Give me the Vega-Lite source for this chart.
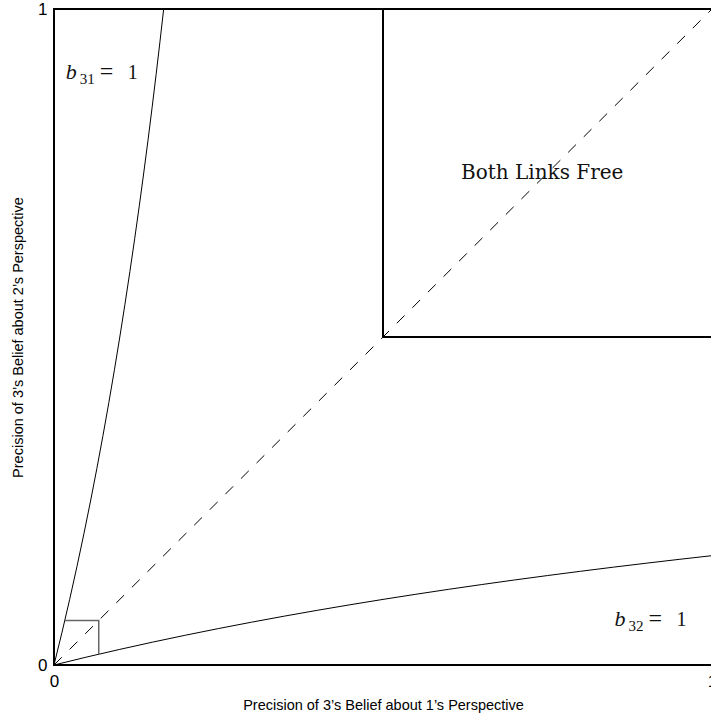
{
  "$schema": "https://vega.github.io/schema/vega-lite/v6.json",
  "autosize": {"type": "none"},
  "padding": {"left": 54, "top": 9, "right": 0, "bottom": 54},
  "width": 658,
  "height": 656,
  "background": "white",
  "config": {
    "view": {"stroke": "black", "strokeWidth": 2},
    "axis": {
      "domain": false,
      "ticks": false,
      "grid": false,
      "labelFont": "Liberation Sans",
      "labelFontSize": 17,
      "labelColor": "black",
      "titleFont": "Liberation Sans",
      "titleFontSize": 14,
      "titleFontWeight": "normal",
      "titleColor": "black",
      "labelFlush": false,
      "labelOverlap": false
    }
  },
  "layer": [
    {
      "data": {"values": [{"x": 0, "y": 0}, {"x": 1, "y": 1}]},
      "mark": {"type": "line", "color": "black", "strokeWidth": 1, "strokeDash": [11, 11], "clip": true},
      "encoding": {
        "x": {"field": "x", "type": "quantitative", "scale": {"domain": [0, 1], "nice": false, "zero": false}, "axis": {"values": [0, 1], "format": "d", "labelFontSize": 17, "labelPadding": 8, "titleFontSize": 14.5, "titlePadding": 9, "title": "Precision of 3’s Belief about 1’s Perspective"}},
        "y": {"field": "y", "type": "quantitative", "scale": {"domain": [0, 1], "nice": false, "zero": false}, "axis": {"values": [0, 1], "format": "d", "labelFontSize": 17, "labelPadding": 7, "titleFontSize": 14.5, "titlePadding": 12, "title": "Precision of 3’s Belief about 2’s Perspective"}}
      }
    },
    {
      "data": {"values": [
        {"x": 0, "y": 0, "i": 0},
        {"x": 0.01220, "y": 0.05, "i": 1},
        {"x": 0.02381, "y": 0.1, "i": 2},
        {"x": 0.03488, "y": 0.15, "i": 3},
        {"x": 0.04545, "y": 0.2, "i": 4},
        {"x": 0.05556, "y": 0.25, "i": 5},
        {"x": 0.06522, "y": 0.3, "i": 6},
        {"x": 0.07447, "y": 0.35, "i": 7},
        {"x": 0.08333, "y": 0.4, "i": 8},
        {"x": 0.09184, "y": 0.45, "i": 9},
        {"x": 0.1, "y": 0.5, "i": 10},
        {"x": 0.10784, "y": 0.55, "i": 11},
        {"x": 0.11538, "y": 0.6, "i": 12},
        {"x": 0.12264, "y": 0.65, "i": 13},
        {"x": 0.12963, "y": 0.7, "i": 14},
        {"x": 0.13636, "y": 0.75, "i": 15},
        {"x": 0.14286, "y": 0.8, "i": 16},
        {"x": 0.14912, "y": 0.85, "i": 17},
        {"x": 0.15517, "y": 0.9, "i": 18},
        {"x": 0.16102, "y": 0.95, "i": 19},
        {"x": 0.16667, "y": 1.0, "i": 20}
      ]},
      "mark": {"type": "line", "color": "black", "strokeWidth": 1},
      "encoding": {
        "x": {"field": "x", "type": "quantitative"},
        "y": {"field": "y", "type": "quantitative"},
        "order": {"field": "i", "type": "quantitative"}
      }
    },
    {
      "data": {"values": [
        {"x": 0, "y": 0, "i": 0},
        {"x": 0.05, "y": 0.01220, "i": 1},
        {"x": 0.1, "y": 0.02381, "i": 2},
        {"x": 0.15, "y": 0.03488, "i": 3},
        {"x": 0.2, "y": 0.04545, "i": 4},
        {"x": 0.25, "y": 0.05556, "i": 5},
        {"x": 0.3, "y": 0.06522, "i": 6},
        {"x": 0.35, "y": 0.07447, "i": 7},
        {"x": 0.4, "y": 0.08333, "i": 8},
        {"x": 0.45, "y": 0.09184, "i": 9},
        {"x": 0.5, "y": 0.1, "i": 10},
        {"x": 0.55, "y": 0.10784, "i": 11},
        {"x": 0.6, "y": 0.11538, "i": 12},
        {"x": 0.65, "y": 0.12264, "i": 13},
        {"x": 0.7, "y": 0.12963, "i": 14},
        {"x": 0.75, "y": 0.13636, "i": 15},
        {"x": 0.8, "y": 0.14286, "i": 16},
        {"x": 0.85, "y": 0.14912, "i": 17},
        {"x": 0.9, "y": 0.15517, "i": 18},
        {"x": 0.95, "y": 0.16102, "i": 19},
        {"x": 1.0, "y": 0.16667, "i": 20}
      ]},
      "mark": {"type": "line", "color": "black", "strokeWidth": 1},
      "encoding": {
        "x": {"field": "x", "type": "quantitative"},
        "y": {"field": "y", "type": "quantitative"},
        "order": {"field": "i", "type": "quantitative"}
      }
    },
    {
      "data": {"values": [
        {"x": 0.5, "y": 1, "i": 0},
        {"x": 0.5, "y": 0.5, "i": 1},
        {"x": 1, "y": 0.5, "i": 2}
      ]},
      "mark": {"type": "line", "color": "black", "strokeWidth": 2, "strokeJoin": "miter"},
      "encoding": {
        "x": {"field": "x", "type": "quantitative"},
        "y": {"field": "y", "type": "quantitative"},
        "order": {"field": "i", "type": "quantitative"}
      }
    },
    {
      "data": {"values": [
        {"x": 0.0164, "y": 0.068, "i": 0},
        {"x": 0.068, "y": 0.068, "i": 1},
        {"x": 0.068, "y": 0.0164, "i": 2}
      ]},
      "mark": {"type": "line", "color": "#666666", "strokeWidth": 1.5, "strokeJoin": "miter"},
      "encoding": {
        "x": {"field": "x", "type": "quantitative"},
        "y": {"field": "y", "type": "quantitative"},
        "order": {"field": "i", "type": "quantitative"}
      }
    },
    {
      "data": {"values": [{"x": 0.742, "y": 0.741, "t": "Both Links Free"}]},
      "mark": {"type": "text", "font": "DejaVu Serif", "fontSize": 20, "align": "center", "baseline": "alphabetic", "color": "#111111"},
      "encoding": {
        "x": {"field": "x", "type": "quantitative"},
        "y": {"field": "y", "type": "quantitative"},
        "text": {"field": "t"}
      }
    },
    {
      "data": {"values": [{"x": 0.018, "y": 0.893, "t": "b"}, {"x": 0.852, "y": 0.0595, "t": "b"}]},
      "mark": {"type": "text", "font": "Liberation Serif", "fontStyle": "italic", "fontSize": 22, "align": "left", "baseline": "alphabetic", "color": "#111111"},
      "encoding": {
        "x": {"field": "x", "type": "quantitative"},
        "y": {"field": "y", "type": "quantitative"},
        "text": {"field": "t"}
      }
    },
    {
      "data": {"values": [{"x": 0.018, "y": 0.893, "t": "31"}, {"x": 0.852, "y": 0.0595, "t": "32"}]},
      "mark": {"type": "text", "font": "Liberation Serif", "fontSize": 15, "align": "left", "baseline": "alphabetic", "dx": 14, "dy": 5, "color": "#111111"},
      "encoding": {
        "x": {"field": "x", "type": "quantitative"},
        "y": {"field": "y", "type": "quantitative"},
        "text": {"field": "t"}
      }
    },
    {
      "data": {"values": [{"x": 0.018, "y": 0.893, "t": "="}, {"x": 0.852, "y": 0.0595, "t": "="}]},
      "mark": {"type": "text", "font": "Liberation Serif", "fontSize": 24, "align": "left", "baseline": "alphabetic", "dx": 34, "color": "#111111"},
      "encoding": {
        "x": {"field": "x", "type": "quantitative"},
        "y": {"field": "y", "type": "quantitative"},
        "text": {"field": "t"}
      }
    },
    {
      "data": {"values": [{"x": 0.018, "y": 0.893, "t": "1"}, {"x": 0.852, "y": 0.0595, "t": "1"}]},
      "mark": {"type": "text", "font": "Liberation Serif", "fontSize": 20, "align": "left", "baseline": "alphabetic", "dx": 62, "color": "#111111"},
      "encoding": {
        "x": {"field": "x", "type": "quantitative"},
        "y": {"field": "y", "type": "quantitative"},
        "text": {"field": "t"}
      }
    }
  ]
}
